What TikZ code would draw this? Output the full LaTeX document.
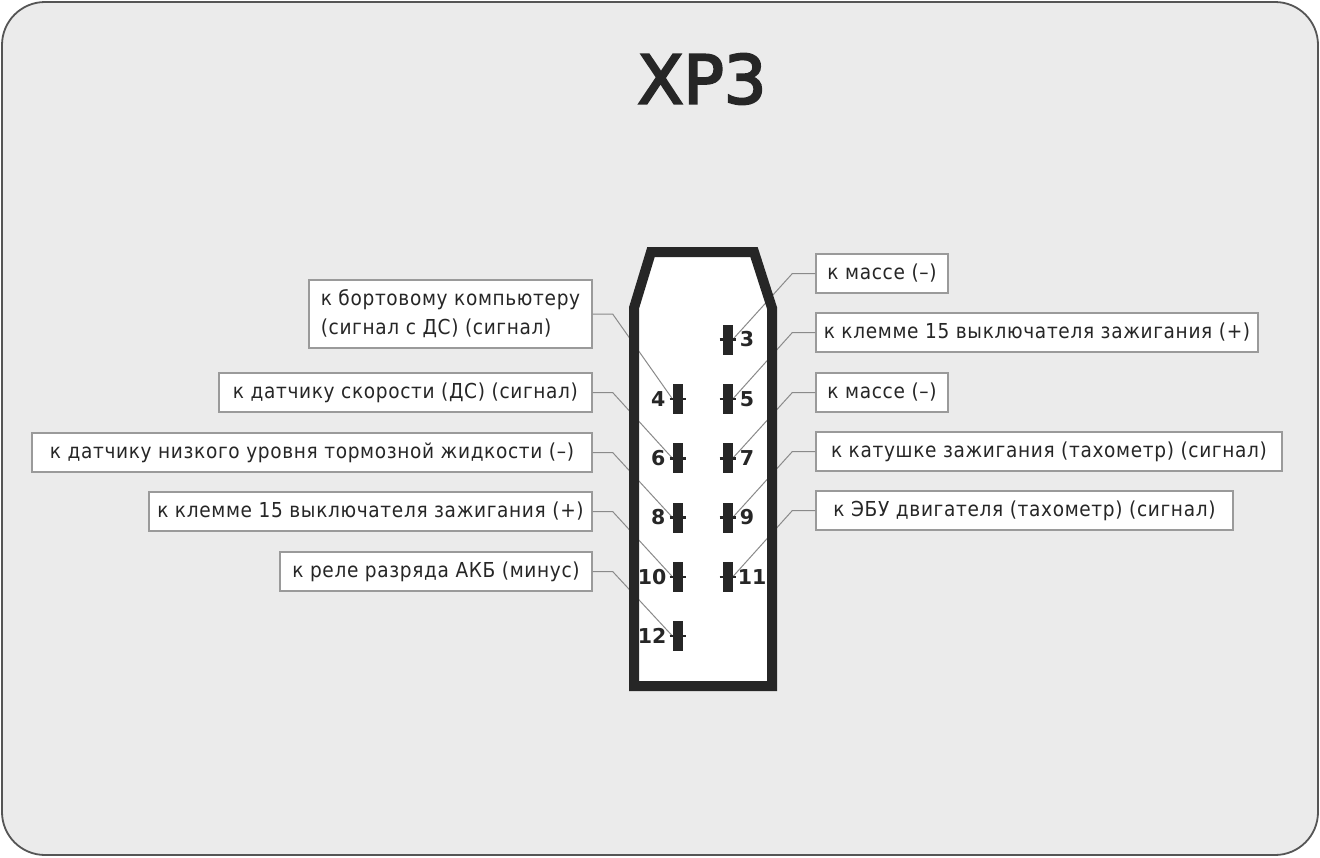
\documentclass[tikz,border=0pt]{standalone}
\usepackage{fontspec}
\setmainfont{DejaVu Sans}
\newfontfamily\lblfont{DejaVu Sans Condensed}[LetterSpace=3.2]
\newfontfamily\titlefont{DejaVu Sans}[FakeBold=3.3]
\definecolor{bg}{HTML}{EBEBEB}
\definecolor{framec}{HTML}{555555}
\definecolor{conn}{HTML}{262626}
\definecolor{boxc}{HTML}{9A9A9A}
\definecolor{leadc}{HTML}{8A8A8A}
\begin{document}
\begin{tikzpicture}[x=1pt,y=-1pt,
  lbl/.style={draw=boxc, line width=1.3pt, fill=white, inner sep=0pt,
    font=\lblfont\fontsize{20.6}{29}\selectfont, text=black!85},
  lead/.style={draw=leadc, line width=1pt},
  pinbox/.style={fill=conn, minimum width=10pt, minimum height=30pt, inner sep=0pt},
  pintick/.style={draw=conn, line width=2.4pt},
  num/.style={font=\bfseries\fontsize{20.5}{20.5}\selectfont, text=conn, inner sep=0pt},
  body/.style={line width=10pt, draw=conn, line join=miter}]
\useasboundingbox (0,0) rectangle (1320,857);
\fill[white] (0,0) rectangle (1320,857);
\draw[fill=bg, draw=framec, line width=1.8pt, rounded corners=43pt] (2,2) rectangle (1318,855);

% title
\node[font=\titlefont\fontsize{67}{67}\selectfont, text=conn, inner sep=0pt] (title) at (702,79) {ХР3};

% connector body fill
\fill[white] (651,252) -- (754,252) -- (772,308) -- (772,686) -- (634,686) -- (634,308) -- cycle;

% pins
\node[pinbox] (p3) at (727.5,339.5) {};
\node[pinbox] (p4) at (677.7,399) {};
\node[pinbox] (p5) at (727.5,399) {};
\node[pinbox] (p6) at (677.7,458.3) {};
\node[pinbox] (p7) at (727.5,458.3) {};
\node[pinbox] (p8) at (677.7,517.5) {};
\node[pinbox] (p9) at (727.5,517.5) {};
\node[pinbox] (p10) at (677.7,576.8) {};
\node[pinbox] (p11) at (727.5,576.8) {};
\node[pinbox] (p12) at (677.7,636) {};

% label boxes left
\node[lbl, minimum width=283pt, minimum height=68pt, align=left] (L1) at (450.5,314)
  {к бортовому компьютеру\\(сигнал с ДС) (сигнал)};
\node[lbl, minimum width=373pt, minimum height=39pt] (L2) at (405.5,392.5) {к датчику скорости (ДС) (сигнал)};
\node[lbl, minimum width=560pt, minimum height=39pt] (L3) at (312,452.5) {к датчику низкого уровня тормозной жидкости (–)};
\node[lbl, minimum width=443pt, minimum height=39pt] (L4) at (370.5,511.5) {к клемме 15 выключателя зажигания (+)};
\node[lbl, minimum width=312pt, minimum height=39pt] (L5) at (436,571.5) {к реле разряда АКБ (минус)};

% label boxes right
\node[lbl, minimum width=132pt, minimum height=39pt] (R1) at (882,273.5) {к массе (–)};
\node[lbl, minimum width=442pt, minimum height=39pt] (R2) at (1037,332.5) {к клемме 15 выключателя зажигания (+)};
\node[lbl, minimum width=132pt, minimum height=39pt] (R3) at (882,392.5) {к массе (–)};
\node[lbl, minimum width=466pt, minimum height=39pt] (R4) at (1049,451.5) {к катушке зажигания (тахометр) (сигнал)};
\node[lbl, minimum width=417pt, minimum height=39pt] (R5) at (1024.5,510.5) {к ЭБУ двигателя (тахометр) (сигнал)};

% leaders
\draw[lead] (L1.east) -- ++(20,0) -- (p4.west);
\draw[lead] (L2.east) -- ++(20,0) -- (p6.west);
\draw[lead] (L3.east) -- ++(20,0) -- (p8.west);
\draw[lead] (L4.east) -- ++(20,0) -- (p10.west);
\draw[lead] (L5.east) -- ++(20,0) -- (p12.west);
\draw[lead] (R1.west) -- ++(-23,0) -- (p3.east);
\draw[lead] (R2.west) -- ++(-23,0) -- (p5.east);
\draw[lead] (R3.west) -- ++(-23,0) -- (p7.east);
\draw[lead] (R4.west) -- ++(-23,0) -- (p9.east);
\draw[lead] (R5.west) -- ++(-23,0) -- (p11.east);

% connector outline
\draw[body] (651,252) -- (754,252) -- (772,308) -- (772,686) -- (634,686) -- (634,308) -- cycle;

% pins on top
\foreach \p in {3,4,...,12} {
  \node[pinbox] at (p\p) {};
  \draw[pintick] ([xshift=-2.8pt]p\p.west) -- ([xshift=2.8pt]p\p.east);
}

% pin numbers
\node[num, anchor=west] (n3) at ([xshift=7pt]p3.east) {3};
\node[num, anchor=east] (n4) at ([xshift=-7pt]p4.west) {4};
\node[num, anchor=west] (n5) at ([xshift=7pt]p5.east) {5};
\node[num, anchor=east] (n6) at ([xshift=-7pt]p6.west) {6};
\node[num, anchor=west] (n7) at ([xshift=7pt]p7.east) {7};
\node[num, anchor=east] (n8) at ([xshift=-7pt]p8.west) {8};
\node[num, anchor=west] (n9) at ([xshift=7pt]p9.east) {9};
\node[num, anchor=east] (n10) at ([xshift=-6pt]p10.west) {10};
\node[num, anchor=west] (n11) at ([xshift=5pt]p11.east) {11};
\node[num, anchor=east] (n12) at ([xshift=-6pt]p12.west) {12};
\end{tikzpicture}
\end{document}
